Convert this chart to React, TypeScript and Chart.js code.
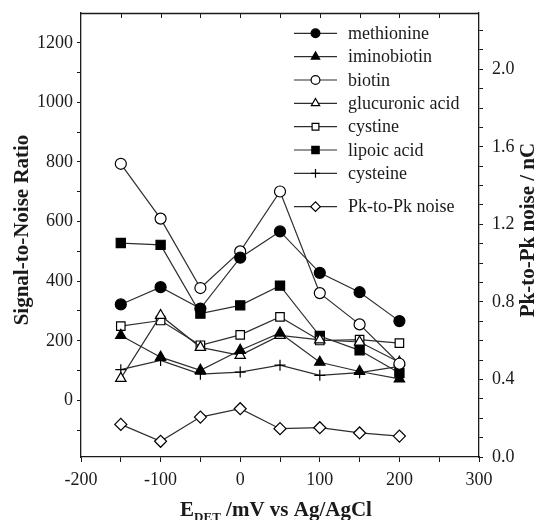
import React, { useEffect, useRef } from 'react';
import { Chart, registerables } from 'chart.js';
import { drawPoint } from 'chart.js/helpers';

Chart.register(...registerables);

// ---- data ----
const potentials = [-150, -100, -50, 0, 50, 100, 150, 200];
const methionine = [322, 380, 308, 479, 567, 428, 363, 266];
const iminobiotin = [218, 145, 101, 168, 226, 128, 97, 72];
const biotin = [794, 610, 377, 500, 701, 360, 255, 123];
const glucuronicAcid = [74, 285, 178, 151, 218, 203, 196, 128];
const cystine = [249, 268, 185, 220, 280, 201, 204, 192];
const lipoicAcid = [528, 522, 291, 319, 385, 216, 168, 92];
const cysteine = [103, 134, 88, 95, 118, 84, 93, 114];
const pkToPkNoise = [0.168, 0.081, 0.206, 0.249, 0.146, 0.151, 0.124, 0.108];

const seriesLabels = [
  'methionine',
  'iminobiotin',
  'biotin',
  'glucuronic acid',
  'cystine',
  'lipoic acid',
  'cysteine',
  'Pk-to-Pk noise',
];

// tick positions and labelled ticks
const xTicks = [-200, -150, -100, -50, 0, 50, 100, 150, 200, 250, 300];
const xTickLabels = [-200, -100, 0, 100, 200, 300];
const yTicks = [-100, 0, 100, 200, 300, 400, 500, 600, 700, 800, 900, 1000, 1100, 1200];
const yTickLabels = [0, 200, 400, 600, 800, 1000, 1200];
const y1Ticks = [0, 0.1, 0.2, 0.3, 0.4, 0.5, 0.6, 0.7, 0.8, 0.9, 1.0, 1.1, 1.2, 1.3, 1.4, 1.5, 1.6, 1.7, 1.8, 1.9, 2.0, 2.1, 2.2];
const y1TickLabels = [0, 0.4, 0.8, 1.2, 1.6, 2.0];

const xTitleMain = 'E';
const xTitleSub = 'DET';
const xTitleRest = ' /mV vs Ag/AgCl';
const yTitle = 'Signal-to-Noise Ratio';
const y1Title = 'Pk-to-Pk noise / nC';

const SERIF = '"Liberation Serif", "Times New Roman", serif';
const INK = '#1a1a1a';
const LINE = '#2e2e2e';

function pts(vals: number[]) {
  return potentials.map((x, i) => ({ x, y: vals[i] }));
}

function ds(label: string, vals: number[], style: string, filled: boolean, radius: number, axis = 'y') {
  return {
    label,
    data: pts(vals),
    yAxisID: axis,
    borderColor: LINE,
    borderWidth: 1.2,
    pointStyle: style,
    pointRadius: radius,
    pointHoverRadius: radius,
    pointBackgroundColor: filled ? '#000' : '#fff',
    pointBorderColor: '#000',
    pointBorderWidth: 1.2,
    tension: 0,
    fill: false,
  };
}

function near(list: number[], v: number) {
  return list.some((w) => Math.abs(w - v) < 1e-6);
}

const legendPlugin = {
  id: 'customLegend',
  afterDraw(chart: any) {
    const ctx = chart.ctx;
    const rows = [33.3, 56.7, 80, 103.3, 126.7, 150, 173.3, 206.7];
    chart.data.datasets.forEach((d: any, i: number) => {
      const y = rows[i];
      ctx.save();
      ctx.strokeStyle = LINE;
      ctx.lineWidth = 1.2;
      ctx.beginPath();
      ctx.moveTo(294, y);
      ctx.lineTo(337, y);
      ctx.stroke();
      ctx.fillStyle = d.pointBackgroundColor;
      ctx.strokeStyle = '#000';
      ctx.lineWidth = 1.2;
      drawPoint(ctx, { pointStyle: d.pointStyle, radius: d.pointRadius * 0.8, borderWidth: 1.2, rotation: 0 } as any, 315.5, y);
      ctx.fillStyle = INK;
      ctx.font = `18px ${SERIF}`;
      ctx.textAlign = 'left';
      ctx.textBaseline = 'middle';
      ctx.fillText(d.label, 348, y + 1);
      ctx.restore();
    });
  },
};

const framePlugin = {
  id: 'frameAndTitles',
  afterDraw(chart: any) {
    const ctx = chart.ctx;
    const { left, right, top } = chart.chartArea;
    const xs = chart.scales.x;
    ctx.save();
    // top border + inward ticks
    ctx.strokeStyle = INK;
    ctx.lineWidth = 1.3;
    ctx.beginPath();
    ctx.moveTo(left, top + 0.5);
    ctx.lineTo(right, top + 0.5);
    ctx.stroke();
    ctx.lineWidth = 1;
    xs.ticks.forEach((t: any) => {
      const px = Math.round(xs.getPixelForValue(t.value)) + 0.5;
      if (px <= left + 1 || px >= right - 1) return;
      ctx.beginPath();
      ctx.moveTo(px, top);
      ctx.lineTo(px, top + 5);
      ctx.stroke();
    });

    // axis titles
    ctx.fillStyle = INK;
    ctx.textAlign = 'center';
    ctx.textBaseline = 'middle';
    ctx.font = `bold 21px ${SERIF}`;
    ctx.save();
    ctx.translate(23, 230);
    ctx.rotate(-Math.PI / 2);
    ctx.fillText(yTitle, 0, 0);
    ctx.restore();
    ctx.save();
    ctx.translate(529, 230);
    ctx.rotate(-Math.PI / 2);
    ctx.fillText(y1Title, 0, 0);
    ctx.restore();

    // x title with subscript
    ctx.textAlign = 'left';
    ctx.textBaseline = 'alphabetic';
    const mainFont = `bold 21px ${SERIF}`;
    const subFont = `bold 13px ${SERIF}`;
    ctx.font = mainFont;
    const wE = ctx.measureText(xTitleMain).width;
    const wRest = ctx.measureText(xTitleRest).width;
    ctx.font = subFont;
    const wSub = ctx.measureText(xTitleSub).width;
    const total = wE + wSub + wRest;
    let x0 = 276 - total / 2;
    const base = 516;
    ctx.font = mainFont;
    ctx.fillText(xTitleMain, x0, base);
    x0 += wE;
    ctx.font = subFont;
    ctx.fillText(xTitleSub, x0, base + 5);
    x0 += wSub;
    ctx.font = mainFont;
    ctx.fillText(xTitleRest, x0, base);
    ctx.restore();
  },
};

export default function App() {
  const ref = useRef<HTMLCanvasElement | null>(null);

  useEffect(() => {
    if (!ref.current) return;
    const tickFont = { family: SERIF, size: 18 };
    const noPad = (s: any) => {
      s.paddingTop = 0;
      s.paddingBottom = 0;
      s.paddingLeft = 0;
      s.paddingRight = 0;
    };
    const chart = new Chart(ref.current, {
      type: 'line',
      data: {
        datasets: [
          ds(seriesLabels[0], methionine, 'circle', true, 5.5),
          ds(seriesLabels[1], iminobiotin, 'triangle', true, 6),
          ds(seriesLabels[2], biotin, 'circle', false, 5.5),
          ds(seriesLabels[3], glucuronicAcid, 'triangle', false, 6),
          ds(seriesLabels[4], cystine, 'rect', false, 6),
          ds(seriesLabels[5], lipoicAcid, 'rect', true, 6.5),
          ds(seriesLabels[6], cysteine, 'cross', false, 5.5),
          ds(seriesLabels[7], pkToPkNoise, 'rectRot', false, 6, 'y1'),
        ] as any,
      },
      options: {
        animation: false,
        responsive: true,
        maintainAspectRatio: false,
        layout: { padding: { top: 13, left: 0, right: 0, bottom: 0 } },
        plugins: {
          legend: { display: false },
          tooltip: { enabled: false },
          title: { display: false },
        },
        scales: {
          x: {
            type: 'linear',
            min: -200,
            max: 300,
            ticks: {
              font: tickFont,
              color: INK,
              padding: 7,
              maxRotation: 0,
              autoSkip: false,
              callback: (v: any) => (near(xTickLabels, Number(v)) ? String(v) : ''),
            },
            afterBuildTicks: (s: any) => {
              s.ticks = xTicks.map((value) => ({ value }));
            },
            grid: { drawOnChartArea: false, drawTicks: true, tickLength: 5, color: INK },
            border: { display: true, color: INK, width: 1.3 },
            afterFit: (s: any) => {
              s.height = 63;
              noPad(s);
            },
          },
          y: {
            type: 'linear',
            position: 'left',
            min: -190,
            max: 1300,
            ticks: {
              font: tickFont,
              color: INK,
              padding: 4,
              autoSkip: false,
              callback: (v: any) => (near(yTickLabels, Number(v)) ? String(v) : ''),
            },
            afterBuildTicks: (s: any) => {
              s.ticks = yTicks.map((value) => ({ value }));
            },
            grid: { drawOnChartArea: false, drawTicks: true, tickLength: 4, color: INK },
            border: { display: true, color: INK, width: 1.3 },
            afterFit: (s: any) => {
              s.width = 81;
              noPad(s);
            },
          },
          y1: {
            type: 'linear',
            position: 'right',
            min: 0,
            max: 2.29,
            ticks: {
              font: tickFont,
              color: INK,
              padding: 9,
              autoSkip: false,
              callback: (v: any) => (near(y1TickLabels, Number(v)) ? Number(v).toFixed(1) : ''),
            },
            afterBuildTicks: (s: any) => {
              s.ticks = y1Ticks.map((value) => ({ value }));
            },
            grid: { drawOnChartArea: false, drawTicks: true, tickLength: 4, color: INK },
            border: { display: true, color: INK, width: 1.3 },
            afterFit: (s: any) => {
              s.width = 62;
              noPad(s);
            },
          },
        },
      } as any,
      plugins: [framePlugin, legendPlugin],
    });
    return () => chart.destroy();
  }, []);

  return (
    <div style={{ position: 'fixed', left: 0, top: 0, width: 541, height: 520, background: '#fff' }}>
      <canvas ref={ref} />
    </div>
  );
}
